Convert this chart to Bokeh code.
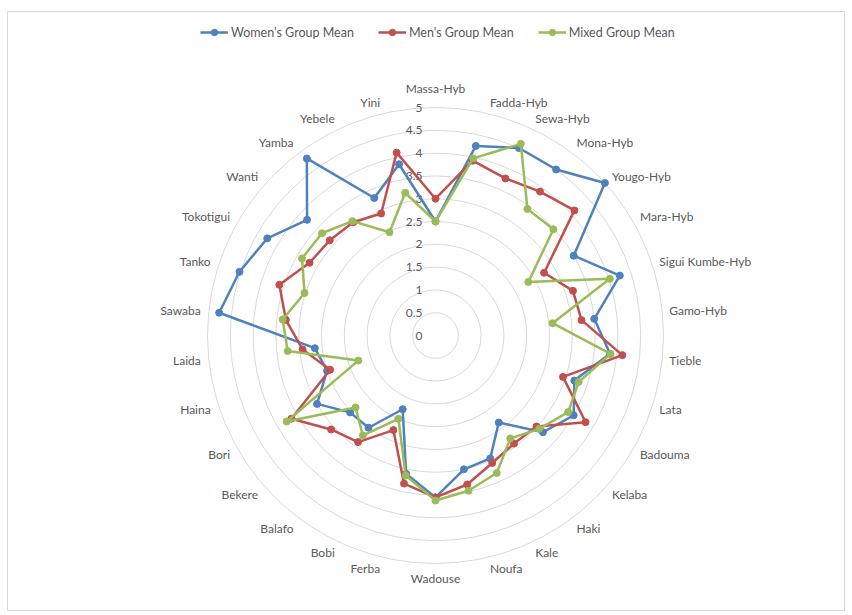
import numpy as np
from bokeh.plotting import figure
from bokeh.models import Range1d, Legend, LegendItem, ColumnDataSource
from bokeh.embed import file_html
from bokeh.resources import INLINE
from bokeh.core.properties import value

categories = ["Massa-Hyb", "Fadda-Hyb", "Sewa-Hyb", "Mona-Hyb", "Yougo-Hyb", "Mara-Hyb",
              "Sigui Kumbe-Hyb", "Gamo-Hyb", "Tieble", "Lata", "Badouma", "Kelaba", "Haki",
              "Kale", "Noufa", "Wadouse", "Ferba", "Bobi", "Balafo", "Bekere", "Bori", "Haina",
              "Laida", "Sawaba", "Tanko", "Tokotigui", "Wanti", "Yamba", "Yebele", "Yini"]

womens = [2.5, 4.25, 4.5, 4.5, 5.0, 3.5, 4.25, 3.5, 3.85, 3.2, 3.5, 3.17, 2.36, 2.95, 3.0,
          3.55, 3.1, 1.77, 2.5, 2.52, 3.0, 2.5, 2.66, 4.77, 4.52, 4.26, 3.79, 4.8, 3.3, 3.84]
mens = [3.0, 3.92, 3.77, 3.9, 4.1, 2.75, 3.17, 3.22, 4.12, 2.94, 3.8, 2.98, 2.93, 3.06, 3.34,
        3.55, 3.32, 2.27, 2.89, 3.08, 3.65, 2.43, 2.93, 3.3, 3.6, 3.19, 3.12, 3.07, 2.93, 4.1]
mixed = [2.5, 3.97, 4.6, 3.43, 3.48, 2.35, 4.02, 2.58, 3.86, 3.3, 3.36, 3.06, 2.79, 3.3, 3.48,
         3.62, 3.14, 2.0, 2.71, 2.36, 3.77, 1.78, 3.26, 3.37, 3.02, 3.38, 3.35, 3.1, 2.48, 3.2]

series_names = ["Women's Group Mean", "Men's Group Mean", "Mixed Group Mean"]
series_values = [womens, mens, mixed]
series_colors = ["#4F81BD", "#C0504D", "#9BBB59"]

ticks = [0, 0.5, 1, 1.5, 2, 2.5, 3, 3.5, 4, 4.5, 5]
tick_labels = ["0", "0.5", "1", "1.5", "2", "2.5", "3", "3.5", "4", "4.5", "5"]
r_max = 5

FONT = "Lato"
TEXT_COLOR = "#595959"
GRID_COLOR = "#d9d9d9"

W, H = 838, 600
PX = 45.6          # pixels per value unit
CX, CY = 428, 324  # centre of the radar, px from figure left / top

p = figure(width=W, height=H, output_backend="svg", toolbar_location=None,
           x_range=Range1d(-CX / PX, (W - CX) / PX),
           y_range=Range1d(-(H - CY) / PX, CY / PX),
           x_axis_location=None, y_axis_location=None, min_border=0,
           margin=(11, 0, 0, 7))
p.grid.visible = False
p.outline_line_color = GRID_COLOR
p.background_fill_color = "white"
p.border_fill_color = "white"

n = len(categories)
theta = 2 * np.pi * np.arange(n) / n
sin_t, cos_t = np.sin(theta), np.cos(theta)

# circular gridlines
p.circle(x=[0] * (len(ticks) - 1), y=[0] * (len(ticks) - 1), radius=ticks[1:],
         fill_alpha=0, line_color=GRID_COLOR, line_width=1)

# value axis labels
p.text(x=[0] * len(ticks), y=ticks, text=tick_labels, x_offset=-13,
       text_align="right", text_baseline="middle", text_font=value(FONT),
       text_font_size="12px", text_color=TEXT_COLOR)

# category labels
aligns, xo, yo = [], [], []
for s, c in zip(sin_t, cos_t):
    if abs(s) < 0.05:
        aligns.append("center")
        xo.append(0)
        yo.append(-19 if c > 0 else 15)
    elif s > 0:
        aligns.append("left")
        xo.append(7)
        yo.append(-10 * c)
    else:
        aligns.append("right")
        xo.append(-8)
        yo.append(-10 * c)
lab_src = ColumnDataSource(dict(x=r_max * sin_t, y=r_max * cos_t, text=categories,
                                align=aligns, xo=xo, yo=yo))
p.text(x="x", y="y", text="text", source=lab_src, x_offset="xo", y_offset="yo",
       text_align="align", text_baseline="middle", text_font=value(FONT),
       text_font_size="12px", text_color=TEXT_COLOR)

# series
items = []
for name, vals, col in zip(series_names, series_values, series_colors):
    v = np.array(vals, dtype=float)
    xs = np.append(v * sin_t, v[0] * sin_t[0])
    ys = np.append(v * cos_t, v[0] * cos_t[0])
    lr = p.line(xs, ys, line_color=col, line_width=2.5)
    sr = p.scatter(v * sin_t, v * cos_t, marker="circle", size=7, fill_color=col,
                   line_color=col)
    items.append(LegendItem(label=name, renderers=[lr, sr]))

legend = Legend(items=items, orientation="horizontal", location=(185, H - 37),
                border_line_alpha=0, background_fill_alpha=0,
                label_text_font=FONT, label_text_font_size="12.5px",
                label_text_color=TEXT_COLOR, glyph_width=28, glyph_height=16,
                spacing=24, label_standoff=3, margin=0, padding=8)
p.add_layout(legend)

open("out.html", "w").write(file_html(p, INLINE))
